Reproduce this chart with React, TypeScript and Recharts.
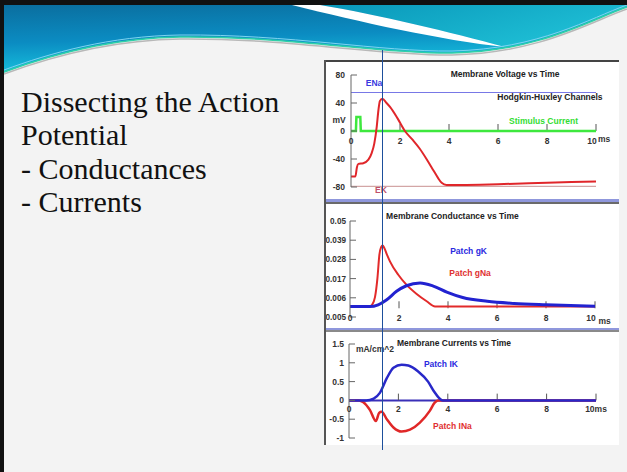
import React from 'react';
import { LineChart, Line, XAxis, YAxis, ReferenceLine, ReferenceDot } from 'recharts';

const FONT = '"Liberation Sans", Arial, sans-serif';

// ---------- Membrane voltage (mV) ----------
const voltTime = [0, 0.18, 0.24, 0.3, 0.5, 0.71, 0.84, 0.95, 1.05, 1.12, 1.18, 1.28, 1.45, 1.6, 1.9, 2.2, 2.5, 2.8, 3.1, 3.36, 3.55, 3.7, 3.9, 4.5, 6, 8, 10];
const voltMv = [-65, -65, -52, -47, -46, -41, -32, -18, 6, 30, 43, 46, 40, 34, 18, 0, -12, -25, -41, -56, -67, -74, -77, -77, -76, -74, -72];
const stimTime = [0, 0.2, 0.22, 0.38, 0.4, 10];
const stimVal = [0, 0, 20, 20, 0, 0];
const E_NA = 55;
const E_K = -79;
const voltTicks = [-80, -40, 0, 40, 80];
const voltTickLabels = ['-80', '-40', '0', '40', '80'];

// ---------- Membrane conductance ----------
const gNaTime = [0, 0.8, 0.9, 1.02, 1.12, 1.2, 1.27, 1.33, 1.4, 1.5, 1.63, 1.97, 2.31, 2.72, 3.13, 3.47, 3.7, 10];
const gNaVal = [0.001, 0.001, 0.002, 0.0064, 0.0173, 0.0307, 0.035, 0.036, 0.0345, 0.031, 0.0269, 0.0192, 0.0134, 0.0082, 0.004, 0.001, 0.001, 0.001];
const gKTime = [0, 0.8, 1.15, 1.5, 1.9, 2.3, 2.86, 3.4, 3.95, 4.6, 5.6, 6.7, 8, 10];
const gKVal = [0.001, 0.001, 0.002, 0.0049, 0.0097, 0.0129, 0.0145, 0.0127, 0.0093, 0.0062, 0.004, 0.0028, 0.002, 0.0011];
const condTicks = [-0.005, 0.006, 0.017, 0.028, 0.039, 0.05];
const condTickLabels = ['0.005', '0.006', '0.017', '0.028', '0.039', '0.05'];

// ---------- Membrane currents ----------
const ikTime = [0, 0.7, 1.0, 1.25, 1.53, 1.8, 2.13, 2.4, 2.8, 3.2, 3.45, 3.65, 3.8, 10];
const ikVal = [0, 0, 0.05, 0.2, 0.59, 0.87, 0.95, 0.93, 0.77, 0.5, 0.23, 0.06, 0, 0];
const inaTime = [0, 0.4, 0.58, 0.85, 1.09, 1.22, 1.32, 1.53, 1.8, 2.13, 2.47, 2.87, 3.27, 3.47, 3.6, 10];
const inaVal = [0, 0, -0.05, -0.26, -0.55, -0.33, -0.3, -0.5, -0.72, -0.83, -0.78, -0.59, -0.28, -0.06, 0, 0];
const currTicks = [-1, -0.5, 0, 0.5, 1, 1.5];
const currTickLabels = ['-1', '-0.5', '0', '0.5', '1', '1.5'];

// ---------- time axis ----------
const timeTicks = [0, 2, 4, 6, 8, 10];
const timeLabelsV = ['0', '2', '4', '6', '8', '10'];
const timeLabelsG = ['0', '2', '4', '6', '8', '10'];
const timeLabelsI = ['0', '2', '4', '6', '8', '10ms'];

const rows = (ts: number[], vs: number[]) => ts.map((t, i) => ({ t, v: vs[i] }));

const voltRows = rows(voltTime, voltMv);
const stimRows = rows(stimTime, stimVal);
const gNaRows = rows(gNaTime, gNaVal);
const gKRows = rows(gKTime, gKVal);
const ikRows = rows(ikTime, ikVal);
const inaRows = rows(inaTime, inaVal);

const TXT = { fontSize: 8.5, fontWeight: 'bold', fontFamily: FONT } as const;

const makeYTick = (ticks: number[], labels: string[], gap: number, size = 8.5) => (p: any) => {
  const { x, y, payload } = p;
  const i = ticks.indexOf(payload.value);
  const label = i >= 0 ? labels[i] : String(payload.value);
  return (
    <g>
      <text x={x} y={y} dy={3} textAnchor="end" fill="#333" {...TXT} fontSize={size}>{label}</text>
      <line x1={x + gap} x2={x + gap + 6} y1={y} y2={y} stroke="#666" strokeWidth={1} />
    </g>
  );
};

function xTicks(id: string, labels: string[], y0: number, len: number, offset: number, lastDx: number) {
  return timeTicks.map((t, i) => (
    <ReferenceLine
      key={id + i}
      segment={[{ x: t, y: y0 }, { x: t, y: y0 + len }]}
      stroke={i === 0 ? 'none' : '#555'}
      strokeWidth={1}
      ifOverflow="visible"
      label={{ value: labels[i], position: 'bottom', offset, fill: '#333', dx: i === timeTicks.length - 1 ? lastDx : 0, ...TXT }}
    />
  ));
}

function note(key: string, x: number, y: number, text: string, color: string) {
  return (
    <ReferenceDot
      key={key}
      x={x}
      y={y}
      r={0}
      fill="none"
      stroke="none"
      ifOverflow="visible"
      label={{ value: text, position: 'center', fill: color, ...TXT }}
    />
  );
}

const abs = (l: number, t: number, w: number, h: number, extra: any = {}) => ({
  position: 'absolute' as const, left: l, top: t, width: w, height: h, ...extra,
});

export default function App() {
  return (
    <div style={abs(0, 0, 627, 472, { background: '#f3f3f3', overflow: 'hidden' })}>
      {/* header wave */}
      <svg width={627} height={80} style={{ position: 'absolute', left: 0, top: 0 }}>
        <defs>
          <linearGradient id="gBlue" x1="0" y1="0" x2="0.25" y2="1">
            <stop offset="0" stopColor="#0a6a9a" />
            <stop offset="0.55" stopColor="#0b8cc2" />
            <stop offset="1" stopColor="#18c6e0" />
          </linearGradient>
          <linearGradient id="gTeal" x1="0" y1="0" x2="1" y2="0.6">
            <stop offset="0" stopColor="#0895b8" />
            <stop offset="1" stopColor="#1fc0d6" />
          </linearGradient>
        </defs>
        <path d="M0,0 H627 V7 C590,20 540,51 452,53 C380,54 290,36 180,37 C110,38 50,55 0,74 Z" fill="url(#gBlue)" />
        <path d="M320,0 H627 V7 C595,18 550,40 505,47 C450,32 380,15 320,5 Z" fill="url(#gTeal)" />
        <path d="M292,0 H320 V5 C380,15 450,32 505,47 C440,40 360,22 292,5 Z" fill="#ffffff" />
        <path d="M4,74 C50,57 110,40 180,39 C290,38 380,56 452,55 C540,53 590,22 627,9" stroke="#b8b8b8" strokeWidth={1.5} fill="none" />
        <path d="M4,72 C50,55 110,38 180,37 C290,36 380,54 452,53 C540,51 590,20 627,7" stroke="#2fd0a8" strokeWidth={1.5} fill="none" />
        <path d="M4,70 C50,53 110,36 180,35 C290,34 380,52 452,51 C540,49 590,18 627,5" stroke="#7fd4f0" strokeWidth={1} fill="none" />
        <rect x={0} y={0} width={627} height={5} fill="#111" />
      </svg>
      <div style={abs(0, 0, 4, 472, { background: '#111' })} />

      {/* slide text */}
      <div style={abs(21, 85, 300, 140, { fontFamily: '"Liberation Serif", serif', fontSize: 30, lineHeight: '33.3px', color: '#111' })}>
        <div>Dissecting the Action</div>
        <div>Potential</div>
        <div>- Conductances</div>
        <div>- Currents</div>
      </div>

      {/* panel */}
      <div style={abs(325, 61, 294, 384, { background: '#ffffff' })} />

      {/* Chart 1: membrane voltage */}
      <div style={abs(326, 62, 293, 137)}>
        <LineChart width={293} height={137} margin={{ top: 13, right: 23, bottom: 12, left: 0 }}>
          <XAxis type="number" dataKey="t" domain={[0, 10]} hide allowDataOverflow />
          <YAxis type="number" dataKey="v" domain={[-80, 80]} ticks={voltTicks} interval={0} width={25}
            tickSize={0} tickMargin={6} tickLine={false} axisLine={{ stroke: '#666' }}
            tick={makeYTick(voltTicks, voltTickLabels, 6)} allowDataOverflow />
          <ReferenceLine y={E_NA} stroke="#7878e6" strokeWidth={1} />
          <ReferenceLine y={E_K} stroke="#c89090" strokeWidth={1} />
          {xTicks('v', timeLabelsV, 0, 10, 7, -4)}
          <Line data={stimRows} dataKey="v" type="linear" stroke="#3ee83e" strokeWidth={2.5} dot={false} activeDot={false} isAnimationActive={false} />
          <Line data={voltRows} dataKey="v" type="monotone" stroke="#e0262a" strokeWidth={2} dot={false} activeDot={false} isAnimationActive={false} />
          {note('t1', 6.29, 81.4, 'Membrane Voltage vs Time', '#222')}
          {note('hh', 8.12, 49, 'Hodgkin-Huxley Channels', '#222')}
          {note('st', 7.86, 14.3, 'Stimulus Current', '#33dd33')}
          {note('ena', 0.94, 69, 'ENa', '#3a3adf')}
          {note('ek', 1.22, -84.5, 'EK', '#c0506a')}
          {note('mv', -0.49, 16, 'mV', '#333')}
          {note('ms1', 10.33, -12, 'ms', '#333')}
        </LineChart>
      </div>

      {/* Chart 2: membrane conductance */}
      <div style={abs(318, 204, 301, 124)}>
        <LineChart width={301} height={124} margin={{ top: 17, right: 24, bottom: 11, left: 0 }}>
          <XAxis type="number" dataKey="t" domain={[0, 10]} hide allowDataOverflow />
          <YAxis type="number" dataKey="v" domain={[-0.005, 0.05]} ticks={condTicks} interval={0} width={32}
            tickSize={0} tickMargin={4} tickLine={false} axisLine={{ stroke: '#666' }}
            tick={makeYTick(condTicks, condTickLabels, 4, 8.2)} allowDataOverflow />
          {xTicks('g', timeLabelsG, 0, 0.004, 6.5, -4)}
          <Line data={gNaRows} dataKey="v" type="monotone" stroke="#e22a2a" strokeWidth={2} dot={false} activeDot={false} isAnimationActive={false} />
          <Line data={gKRows} dataKey="v" type="monotone" stroke="#2222d0" strokeWidth={3} dot={false} activeDot={false} isAnimationActive={false} />
          {note('t2', 4.18, 0.053, 'Membrane Conductance vs Time', '#222')}
          {note('gk', 4.84, 0.033, 'Patch gK', '#2a2ae0')}
          {note('gna', 4.9, 0.0204, 'Patch gNa', '#e03030')}
          {note('ms2', 10.39, -0.0075, 'ms', '#333')}
        </LineChart>
      </div>

      {/* Chart 3: membrane currents */}
      <div style={abs(326, 332, 293, 113)}>
        <LineChart width={293} height={113} margin={{ top: 12, right: 23, bottom: 7, left: 0 }}>
          <XAxis type="number" dataKey="t" domain={[0, 10]} hide allowDataOverflow />
          <YAxis type="number" dataKey="v" domain={[-1, 1.5]} ticks={currTicks} interval={0} width={23}
            tickSize={0} tickMargin={5} tickLine={false} axisLine={{ stroke: '#666' }}
            tick={makeYTick(currTicks, currTickLabels, 5)} allowDataOverflow />
          <ReferenceLine y={0} stroke="#3a30b8" strokeWidth={2} />
          {xTicks('i', timeLabelsI, 0, 0.18, 5.5, 0)}
          <Line data={inaRows} dataKey="v" type="monotone" stroke="#e02828" strokeWidth={2.5} dot={false} activeDot={false} isAnimationActive={false} />
          <Line data={ikRows} dataKey="v" type="monotone" stroke="#2828c8" strokeWidth={2.5} dot={false} activeDot={false} isAnimationActive={false} />
          {note('t3', 4.25, 1.54, 'Membrane Currents  vs Time', '#222')}
          {note('unit', 1.05, 1.36, 'mA/cm^2', '#333')}
          {note('ik', 3.72, 0.97, 'Patch IK', '#2a2ae0')}
          {note('ina', 4.19, -0.67, 'Patch INa', '#e03030')}
        </LineChart>
      </div>

      {/* separators and borders */}
      <div style={abs(325, 199, 294, 3, { background: '#8f97dc' })} />
      <div style={abs(325, 202, 294, 2, { background: '#6a6a6a' })} />
      <div style={abs(325, 328, 294, 2, { background: '#8f97dc' })} />
      <div style={abs(325, 330, 294, 2, { background: '#8a8a8a' })} />
      <div style={abs(325, 60, 294, 2, { background: '#444' })} />
      <div style={abs(324, 60, 1.5, 385, { background: '#555' })} />

      {/* time cursor */}
      <div style={abs(381.5, 50, 1.5, 400, { background: '#1d4f9c' })} />
    </div>
  );
}
